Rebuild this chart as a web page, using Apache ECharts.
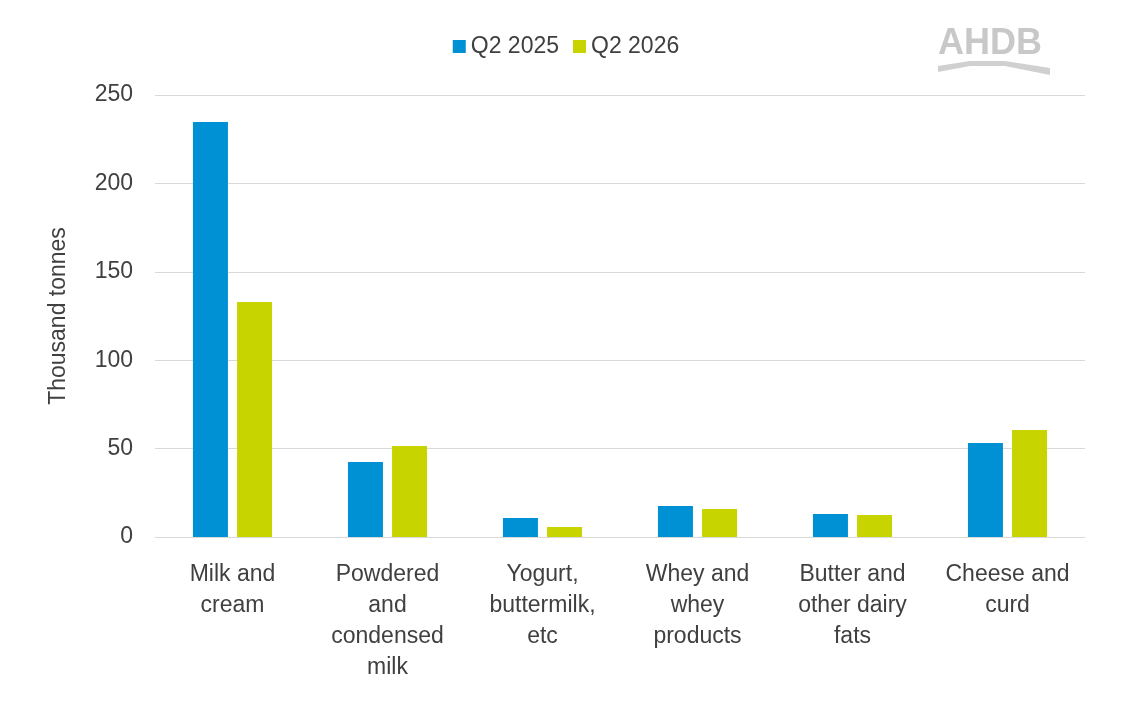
<!DOCTYPE html>
<html><head><meta charset="utf-8">
<script src="https://cdn.jsdelivr.net/npm/echarts@6/dist/echarts.min.js"></script>
<style>html,body{margin:0;padding:0;background:#fff}#c{width:1132px;height:701px}</style>
</head><body><div id="c"></div>
<script>
const categories = ["Milk and\ncream","Powdered\nand\ncondensed\nmilk","Yogurt,\nbuttermilk,\netc","Whey and\nwhey\nproducts","Butter and\nother dairy\nfats","Cheese and\ncurd"];
const q2025 = [234.7, 42.4, 10.7, 17.5, 13.0, 53.2];
const q2026 = [132.9, 51.5, 5.7, 15.8, 12.4, 60.5];
const yTicks = [0, 50, 100, 150, 200, 250];
const chart = echarts.init(document.getElementById('c'));
const font = 'Arial, "Liberation Sans", sans-serif';
chart.setOption({
  animation:false,
  textStyle:{fontFamily:font},
  legend:{top:30,left:'center',itemWidth:13,itemHeight:13,itemGap:14,icon:'rect',
    textStyle:{fontSize:23,color:'#404040',fontFamily:font}},
  graphic:[
    {type:'text',x:938,y:26,style:{text:'AHDB',fontSize:36,fontWeight:'bold',fill:'#c8c8c8',fontFamily:font}},
    {type:'polygon',shape:{points:[[938,66],[970,61],[1005,61],[1050,68],[1050,75],[1005,66],[970,66],[938,72]]},style:{fill:'#d0d0d0'}}
  ],
  grid:{left:155,right:47,top:95,bottom:164},
  xAxis:{type:'category',data:categories,
    axisLine:{lineStyle:{color:'#d9d9d9'}},axisTick:{show:false},
    axisLabel:{fontSize:23,color:'#404040',lineHeight:31,margin:22,interval:0,fontFamily:font}},
  yAxis:{type:'value',min:0,max:250,interval:50,name:'Thousand tonnes',nameLocation:'middle',nameGap:85,
    nameTextStyle:{fontSize:23,color:'#404040',fontFamily:font},
    axisLabel:{fontSize:23,color:'#404040',margin:22,fontFamily:font,
      formatter:v=>yTicks.includes(v)?String(v):''},
    splitLine:{lineStyle:{color:'#d9d9d9'}}},
  series:[
    {name:'Q2 2025',type:'bar',data:q2025,barWidth:35,barGap:'26%',itemStyle:{color:'#0090d4'}},
    {name:'Q2 2026',type:'bar',data:q2026,barWidth:35,itemStyle:{color:'#c8d400'}}
  ]
});
</script></body></html>
